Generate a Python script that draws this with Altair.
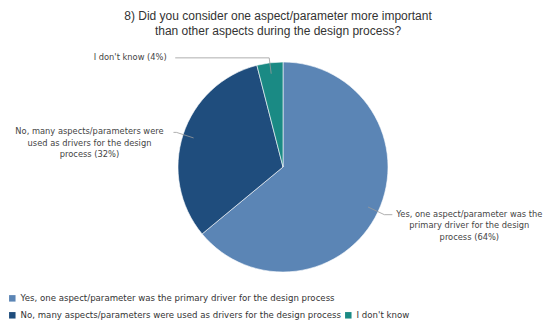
import altair as alt
import pandas as pd

# ---- data ----
categories = [
    "Yes, one aspect/parameter was the primary driver for the design process",
    "No, many aspects/parameters were used as drivers for the design process",
    "I don't know",
]
shares = [64, 32, 4]
label_texts = [
    "Yes, one aspect/parameter was the\nprimary driver for the design\nprocess (64%)",
    "No, many aspects/parameters were\nused as drivers for the design\nprocess (32%)",
    "I don't know (4%)",
]
colors = ["#5b85b5", "#1f4d7d", "#1a8a84"]
title_lines = [
    "8) Did you consider one aspect/parameter more important",
    "than other aspects during the design process?",
]

# ---- layout (styles / positions, kept apart from data) ----
CX, CY, R = 275, 159, 105
leader_r1 = [94, 94, 94]
leader_r2 = [112, 112, 110]
leader_dx = [8, -3, -94]
label_dx = [77, -84, -45]
FS = 8.6
LFS = 8.3

df = pd.DataFrame({
    "category": categories,
    "share": shares,
    "label": label_texts,
    "order": list(range(len(categories))),
    "r1": leader_r1,
    "r2": leader_r2,
    "ldx": leader_dx,
    "tdx": label_dx,
})

blank = " "
domain = [categories[0], blank, categories[1], categories[2]]
rng = [colors[0], "#ffffff", colors[1], colors[2]]

base = alt.Chart(df)

pie = base.mark_arc(outerRadius=R, stroke="#ffffff", strokeWidth=0.6).encode(
    theta=alt.Theta("share:Q", stack=True),
    order=alt.Order("order:Q", sort="ascending"),
    color=alt.Color(
        "category:N",
        scale=alt.Scale(domain=domain, range=rng),
        legend=alt.Legend(
            title=None,
            orient="none",
            legendX=0,
            legendY=286,
            direction="horizontal",
            columns=2,
            symbolType="square",
            symbolSize=42,
            symbolStrokeWidth=0,
            labelFont="DejaVu Sans",
            labelFontSize=FS,
            labelColor="#333333",
            labelLimit=500,
            rowPadding=8,
            columnPadding=3,
            labelOffset=4,
        ),
    ),
    x=alt.value(CX),
    y=alt.value(CY),
)

geo = base.transform_joinaggregate(
    total="sum(share)"
).transform_window(
    cum="sum(share)", sort=[alt.SortField("order")]
).transform_calculate(
    ang="(datum.cum - datum.share / 2) / datum.total * 2 * PI",
).transform_calculate(
    x1=f"{CX} + datum.r1 * sin(datum.ang)",
    y1=f"{CY} - datum.r1 * cos(datum.ang)",
    x2=f"{CX} + datum.r2 * sin(datum.ang)",
    y2=f"{CY} - datum.r2 * cos(datum.ang)",
).transform_calculate(
    x3="datum.x2 + datum.ldx",
    tx="datum.x2 + datum.ldx + datum.tdx",
)

leader1 = geo.mark_rule(color="#9a9a9a", strokeWidth=0.8).encode(
    x=alt.X("x1:Q", scale=None),
    y=alt.Y("y1:Q", scale=None),
    x2="x2:Q",
    y2="y2:Q",
)
leader2 = geo.mark_rule(color="#9a9a9a", strokeWidth=0.8).encode(
    x=alt.X("x2:Q", scale=None),
    y=alt.Y("y2:Q", scale=None),
    x2="x3:Q",
    y2="y2:Q",
)
labels = geo.mark_text(
    font="DejaVu Sans", fontSize=LFS, color="#444444", align="center",
    baseline="middle", lineBreak="\n", lineHeight=11.5,
).encode(
    x=alt.X("tx:Q", scale=None),
    y=alt.Y("y2:Q", scale=None),
    text="label:N",
)

title = alt.Chart(pd.DataFrame({"t": ["\n".join(title_lines)]})).mark_text(
    font="Liberation Sans", fontSize=12, color="#333333", align="center",
    baseline="alphabetic", lineBreak="\n", lineHeight=15,
).encode(
    x=alt.value(270),
    y=alt.value(12),
    text="t:N",
)

chart = alt.layer(pie, leader1, leader2, labels, title).properties(
    width=536,
    height=316,
    autosize=alt.AutoSizeParams(type="none"),
    padding=0,
).configure_view(stroke=None)

chart.save("out.html", embed_options={"renderer": "svg", "actions": False})
